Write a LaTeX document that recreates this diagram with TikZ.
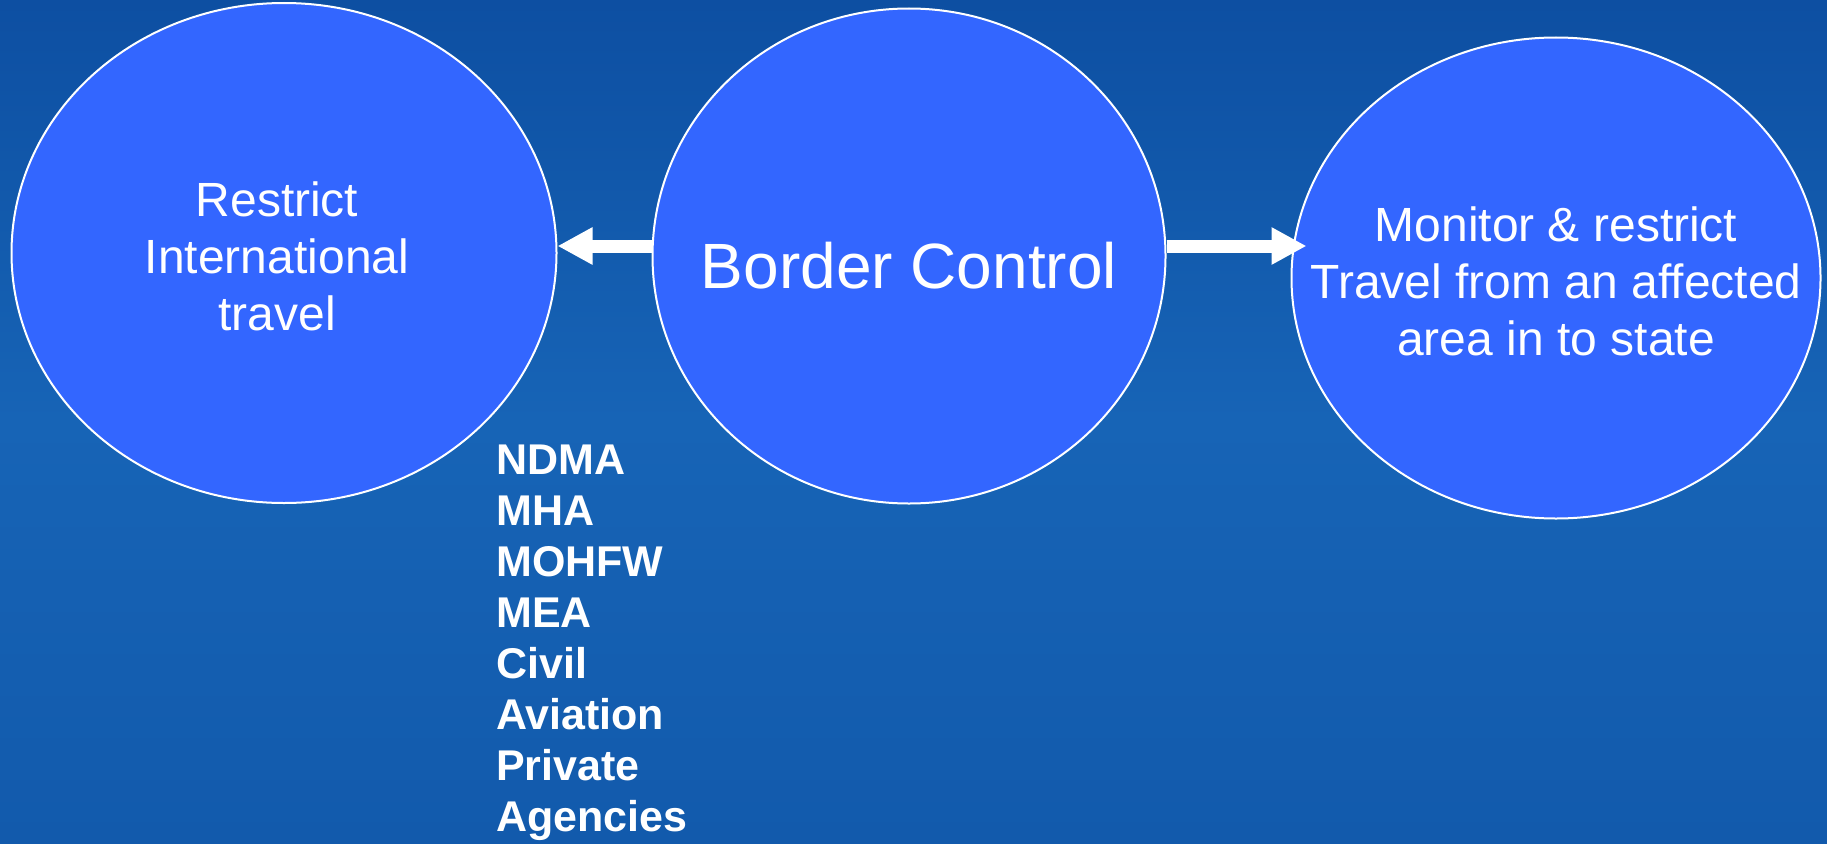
\documentclass[tikz,border=0pt]{standalone}
\usepackage{fontspec}
\setmainfont{Liberation Sans}
\usepackage{tikz}
\usetikzlibrary{arrows.meta,shapes.geometric}
\definecolor{bgtop}{HTML}{0D4FA2}
\definecolor{bgmid}{HTML}{1764B6}
\definecolor{bgbot}{HTML}{125AAC}
\definecolor{bubble}{HTML}{3366FF}

\begin{document}
\begin{tikzpicture}[x=1pt,y=-1pt]
		\fill[top color=bgtop,bottom color=bgbot,middle color=bgmid] (0,0) rectangle (1827,843);
		\useasboundingbox (0,0) rectangle (1827,843);

		\begin{scope}[every node/.style={ellipse,draw=white,line width=2pt,fill=bubble,inner sep=0pt}]
		    \node[minimum width=545pt,minimum height=500pt] (restrict) at (284,253) {};
		    \node[minimum width=513pt,minimum height=495pt] (border) at (909,256) {};
		    \node[minimum width=529pt,minimum height=481pt] (monitor) at (1556,278) {};
		\end{scope}

		\begin{scope}[every node/.style={text=white,align=center,inner sep=0pt,font=\fontsize{48}{57}\selectfont}]
		    \node (restrict text) at (277,256) {Restrict\\International\\travel};
		    \node[font=\fontsize{64}{77}\selectfont] (border text) at (909,266) {Border Control};
		    \node (monitor text) at (1556,281) {Monitor \& restrict\\Travel from an affected\\area in to state};
		    \node[anchor=north west,align=left,font=\bfseries\fontsize{43}{51}\selectfont] (agencies) at (496,445)
		        {NDMA\\MHA\\MOHFW\\MEA\\Civil\\Aviation\\Private\\Agencies};
		\end{scope}

		\begin{scope}[line width=13pt,draw=white,-{Triangle[length=35pt,width=35pt]}]
		    \draw ([yshift=10pt]border.west) -- ([yshift=7pt]restrict.east);
		    \draw ([yshift=10pt]border.east) -- ([xshift=16pt,yshift=32pt]monitor.west);
		\end{scope}
		\end{tikzpicture}
\end{document}
